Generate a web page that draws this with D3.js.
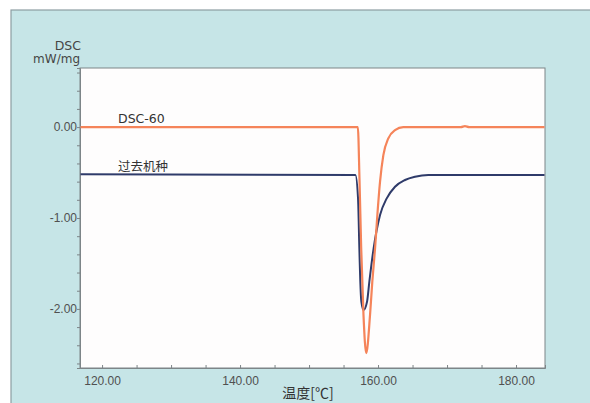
<!DOCTYPE html>
<html><head><meta charset="utf-8">
<script src="https://cdn.jsdelivr.net/npm/d3@7"></script>
<style>
html,body{margin:0;padding:0;background:#fff;}
svg{display:block;}
</style></head>
<body>
<script>
// Data
const dsc60Temp = [116.8, 157.07, 157.32, 157.56, 157.89, 158.29, 158.84, 159.17, 159.57, 159.90, 160.29, 160.77, 161.49, 162.46, 163.66, 172.0, 172.6, 173.2, 184.2];
const dsc60Val  = [0, 0, -0.60, -1.333, -2.066, -2.487, -2.066, -1.70, -1.333, -0.967, -0.60, -0.308, -0.124, -0.033, 0, 0, 0.01, 0, 0];
const oldTemp = [116.8, 156.72, 157.10, 157.29, 157.43, 157.58, 157.91, 158.41, 158.74, 159.36, 160.29, 161.26, 162.46, 163.91, 165.36, 167.29, 184.2];
const oldVal  = [-0.52, -0.527, -0.784, -1.333, -1.70, -1.919, -2.011, -1.919, -1.70, -1.333, -0.967, -0.784, -0.656, -0.582, -0.546, -0.527, -0.527];
const xTickLabels = [120, 140, 160, 180];
const yTickLabels = [0, -1, -2];
const seriesNames = ["DSC-60", "过去机种"];

const W = 590, H = 403;
const plot = {left: 80, top: 68, right: 545, bottom: 368};

const svg = d3.select("body").append("svg").attr("width", W).attr("height", H);

// outer panel
svg.append("rect").attr("x", 11).attr("y", 10).attr("width", W - 11 + 2).attr("height", H - 10 + 2)
  .attr("fill", "#c6e5e7").attr("stroke", "#8d9da2").attr("stroke-width", 1.2);

// plot area
svg.append("rect").attr("x", plot.left).attr("y", plot.top)
  .attr("width", plot.right - plot.left).attr("height", plot.bottom - plot.top)
  .attr("fill", "#fefdfd").attr("stroke", "#7d8588").attr("stroke-width", 1);

const x = d3.scaleLinear().domain([116.8, 184.2]).range([plot.left, plot.right]);
const y = d3.scaleLinear().domain([-2.65, 0.65]).range([plot.bottom, plot.top]);

// x axis
const xAxis = d3.axisBottom(x).tickValues(d3.range(120, 181, 5)).tickSize(-3)
  .tickFormat(d => xTickLabels.includes(d) ? d.toFixed(2) : "");
const gx = svg.append("g").attr("transform", `translate(0,${plot.bottom})`).call(xAxis);
gx.select(".domain").attr("stroke", "#7d8588");
gx.selectAll(".tick line").attr("stroke", "#7d8588");
gx.selectAll(".tick text").attr("y", 8).attr("font-family", "Liberation Sans, Arial, sans-serif")
  .attr("font-size", 12).attr("fill", "#505050");

// y axis
const yVals = d3.range(-13, 4).map(i => +(i * 0.2).toFixed(1));
const yAxis = d3.axisLeft(y).tickValues(yVals).tickSize(3)
  .tickFormat(d => yTickLabels.includes(d) ? d.toFixed(2) : "");
const gy = svg.append("g").attr("transform", `translate(${plot.left},0)`).call(yAxis);
gy.select(".domain").attr("stroke", "#7d8588");
gy.selectAll(".tick line").attr("stroke", "#7d8588");
gy.selectAll(".tick text").attr("x", -3).attr("font-family", "Liberation Sans, Arial, sans-serif")
  .attr("font-size", 12).attr("fill", "#505050");

// axis titles
svg.append("text").attr("x", 81).attr("y", 50).attr("text-anchor", "end")
  .attr("font-family", "DejaVu Sans, sans-serif").attr("font-size", 12.5).attr("fill", "#454545").text("DSC");
svg.append("text").attr("x", 80).attr("y", 63).attr("text-anchor", "end")
  .attr("font-family", "DejaVu Sans, sans-serif").attr("font-size", 12).attr("fill", "#454545").text("mW/mg");
svg.append("text").attr("x", 308).attr("y", 398).attr("text-anchor", "middle")
  .attr("font-family", "Noto Sans CJK SC, sans-serif").attr("font-size", 14).attr("fill", "#333").text("温度[℃]");

// lines
const line = d3.line().x(d => x(d[0])).y(d => y(d[1])).curve(d3.curveMonotoneX);
const oldData = oldTemp.map((t, i) => [t, oldVal[i]]);
const dscData = dsc60Temp.map((t, i) => [t, dsc60Val[i]]);
svg.append("clipPath").attr("id", "clip").append("rect")
  .attr("x", plot.left + 0.5).attr("y", plot.top).attr("width", plot.right - plot.left - 1).attr("height", plot.bottom - plot.top);
svg.append("path").datum(oldData).attr("d", line).attr("fill", "none")
  .attr("stroke", "#2f3b6a").attr("stroke-width", 2).attr("clip-path", "url(#clip)");
svg.append("path").datum(dscData).attr("d", line).attr("fill", "none")
  .attr("stroke", "#f5845a").attr("stroke-width", 2.2).attr("clip-path", "url(#clip)");

// series labels
svg.append("text").attr("x", 118).attr("y", 123)
  .attr("font-family", "DejaVu Sans, sans-serif").attr("font-size", 12.5).attr("fill", "#333").text(seriesNames[0]);
svg.append("text").attr("x", 118).attr("y", 171)
  .attr("font-family", "Noto Sans CJK SC, sans-serif").attr("font-size", 12.5).attr("fill", "#333").text(seriesNames[1]);
</script>
</body></html>
